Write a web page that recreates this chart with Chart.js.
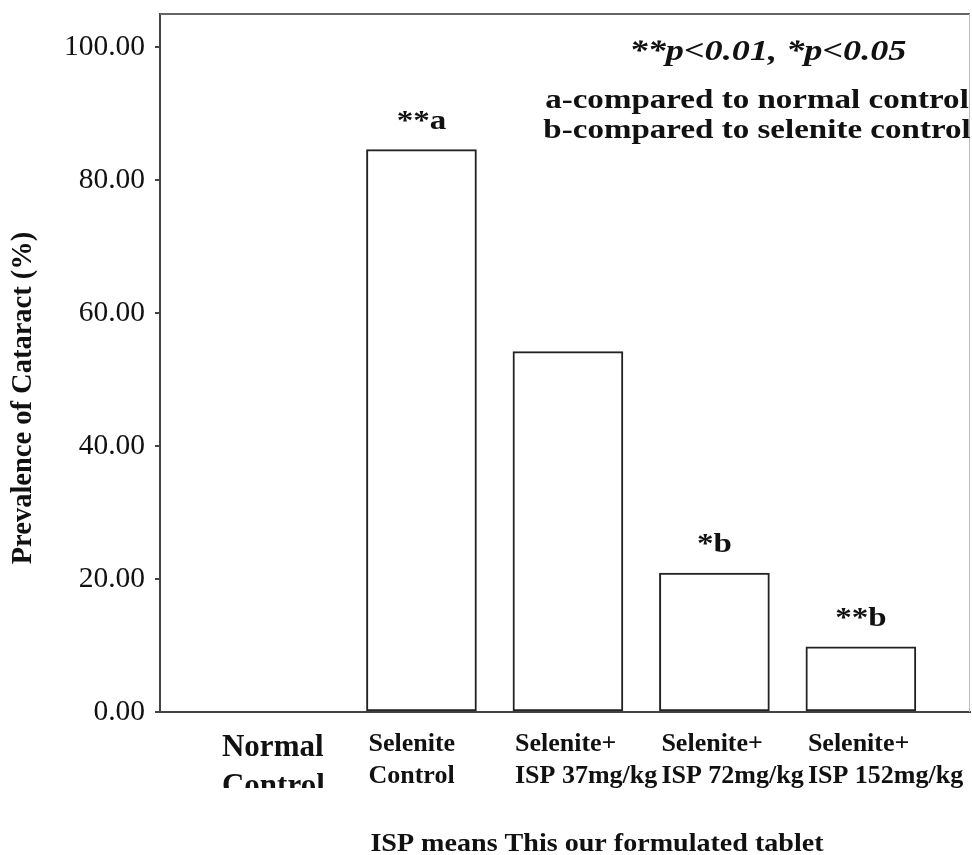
<!DOCTYPE html>
<html>
<head>
<meta charset="utf-8">
<script src="https://cdn.jsdelivr.net/npm/chart.js@4/dist/chart.umd.min.js"></script>
<style>
  html, body { margin: 0; padding: 0; background: #fff; }
  #wrap { width: 972px; height: 855px; }
</style>
</head>
<body>
<div id="wrap"><canvas id="myChart" width="972" height="855"></canvas></div>
<script>
// data
const categories = [
  ["Normal", "Control"],
  ["Selenite", "Control"],
  ["Selenite+", "ISP 37mg/kg"],
  ["Selenite+", "ISP 72mg/kg"],
  ["Selenite+", "ISP 152mg/kg"]
];
const prevalence = [0, 84.6, 54.2, 20.9, 9.8];
const signif = ["", "**a", "", "*b", "**b"];
const yTicks = [0, 20, 40, 60, 80, 100];
const notes = ["**p<0.01, *p<0.05", "a-compared to normal control", "b-compared to selenite control"];
const yTitle = "Prevalence of Cataract (%)";
const caption = "ISP means This our formulated tablet";

const serif = "'Liberation Serif', 'Times New Roman', serif";
const positions = categories.map((c, i) => i + 1);

// the original figure's text is a bit wider than the font, so squeeze it out sideways
function wideText(ctx, text, x, y, sx) {
  ctx.save();
  ctx.translate(x, y);
  ctx.scale(sx, 1);
  ctx.fillText(text, 0, 0);
  ctx.restore();
}

const extras = {
  id: "extras",
  afterDraw(chart) {
    const ctx = chart.ctx;
    const area = chart.chartArea;
    ctx.save();

    // frame top / right
    ctx.strokeStyle = "#666";
    ctx.lineWidth = 2;
    ctx.beginPath();
    ctx.moveTo(area.left, area.top);
    ctx.lineTo(area.right, area.top);
    ctx.stroke();
    ctx.strokeStyle = "#bbb";
    ctx.lineWidth = 1;
    ctx.beginPath();
    ctx.moveTo(area.right - 0.5, area.top);
    ctx.lineTo(area.right - 0.5, area.bottom);
    ctx.stroke();

    // "Control" under Normal is cut off in the original
    ctx.fillStyle = "#fff";
    ctx.fillRect(200, 788, 150, 16);

    // significance marks above bars
    const meta = chart.getDatasetMeta(0);
    ctx.fillStyle = "#111";
    ctx.textAlign = "center";
    ctx.textBaseline = "alphabetic";
    ctx.font = "bold 28px " + serif;
    meta.data.forEach(function(bar, i) {
      if (signif[i]) wideText(ctx, signif[i], bar.x, bar.y - 21, 1.18);
    });

    // notes in top right
    ctx.font = "italic bold 29px " + serif;
    wideText(ctx, notes[0], 768, 60, 1.25);
    ctx.font = "bold 28px " + serif;
    wideText(ctx, notes[1], 757, 108, 1.18);
    wideText(ctx, notes[2], 757, 138, 1.18);

    // y title
    ctx.save();
    ctx.translate(31, 398);
    ctx.rotate(-Math.PI / 2);
    ctx.font = "bold 28.5px " + serif;
    ctx.fillText(yTitle, 0, 0);
    ctx.restore();

    // caption
    ctx.font = "bold 26px " + serif;
    wideText(ctx, caption, 597, 851, 1.08);

    ctx.restore();
  }
};

new Chart("myChart", {
  type: "bar",
  data: {
    datasets: [{
      data: positions.map((x, i) => ({ x: x, y: prevalence[i] })),
      backgroundColor: "#fff",
      borderColor: "#222",
      borderWidth: 2,
      borderSkipped: false,
      barThickness: 110
    }]
  },
  options: {
    responsive: false,
    animation: false,
    layout: { padding: { left: 0, right: 2, top: 14, bottom: 0 } },
    plugins: { legend: { display: false }, tooltip: { enabled: false } },
    scales: {
      x: {
        type: "linear",
        offset: false,
        min: 0.215,
        max: 5.745,
        afterBuildTicks: function(scale) {
          scale.ticks = positions.map(v => ({ value: v }));
        },
        afterFit: function(scale) {
          scale.height = 143;
          scale.paddingLeft = 0;
          scale.paddingRight = 0;
        },
        grid: { display: false, drawTicks: false, offset: false },
        border: { display: true, color: "#444", width: 2 },
        ticks: {
          autoSkip: false,
          maxRotation: 0,
          align: "start",
          labelOffset: -53,
          padding: 16,
          color: "#111",
          callback: function(v, i) { return categories[i]; },
          font: function(c) {
            return c.index === 0
              ? { family: serif, size: 31, weight: "bold", lineHeight: 1.26 }
              : { family: serif, size: 26, weight: "bold", lineHeight: 1.23 };
          }
        }
      },
      y: {
        min: 0,
        max: 105,
        afterBuildTicks: function(scale) {
          scale.ticks = yTicks.map(v => ({ value: v }));
        },
        afterFit: function(scale) {
          scale.width = 160;
          scale.paddingTop = 0;
          scale.paddingBottom = 0;
        },
        grid: { drawOnChartArea: false, drawTicks: true, tickLength: 5, color: "#444", lineWidth: 2 },
        border: { display: true, color: "#444", width: 2 },
        ticks: {
          padding: 10,
          color: "#111",
          font: { family: serif, size: 29.5 },
          callback: function(v) { return v.toFixed(2); }
        }
      }
    }
  },
  plugins: [extras]
});
</script>
</body>
</html>
